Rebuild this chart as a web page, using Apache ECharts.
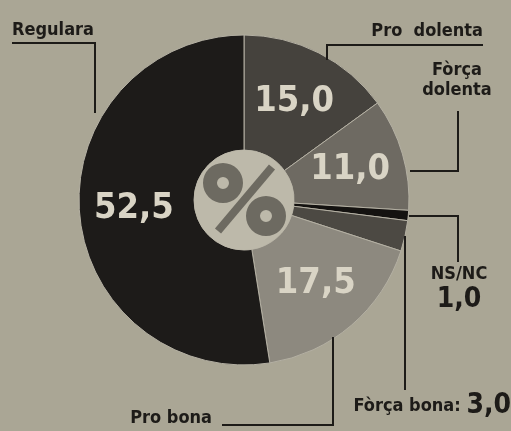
<!DOCTYPE html>
<html>
<head>
<meta charset="utf-8" />
<title>enquesta</title>
<script src="https://cdn.jsdelivr.net/npm/echarts@6/dist/echarts.min.js"></script>
<style>
	html, body { margin: 0; padding: 0; background: #aaa695; }
	#chart { width: 511px; height: 431px; }
</style>
</head>
<body>
<div id="chart"></div>
<script>
	// dades (%), en ordre horari des de les 12
	var categories = ['Pro  dolenta', 'Fòrça dolenta', 'NS/NC', 'Fòrça bona', 'Pro bona', 'Regulara'];
	var values = [15.0, 11.0, 1.0, 3.0, 17.5, 52.5];
	var insideShown = [true, true, false, false, true, true];

	var palette = ['#45423d', '#6e6a62', '#141210', '#4c4943', '#8d897f', '#1d1b19'];
	var ink = '#1d1b18';
	var fontCond = "'Liberation Sans Narrow', 'DejaVu Sans Condensed', 'Noto Sans', sans-serif";

	function num(v) {
		return v.toFixed(1).replace('.', ',');
	}

	// posicio de les etiquetes exteriors i de les linies guia
	var outerLabels = [
		{ x: 483, y: 41, align: 'right', va: 'bottom', line: [[327, 60], [327, 45], [483, 45]] },
		{ x: 457, y: 60, align: 'center', va: 'top', line: [[410, 171], [458, 171], [458, 111]] },
		{ x: 459, y: 263, align: 'center', va: 'top', line: [[409, 216], [458, 216], [458, 262]] },
		{ x: 511, y: 421, align: 'right', va: 'bottom', line: [[405, 236], [405, 312], [405, 390]] },
		{ x: 212, y: 408, align: 'right', va: 'top', line: [[333, 337], [333, 425], [222, 425]] },
		{ x: 12, y: 40, align: 'left', va: 'bottom', line: [[95, 113], [95, 43], [12, 43]] }
	];

	function outerText(i) {
		var name = categories[i];
		if (name === 'Fòrça dolenta') return 'Fòrça\ndolenta';
		if (name === 'NS/NC') return '{a|NS/NC}\n{b|' + num(values[i]) + '}';
		if (name === 'Fòrça bona') return '{a|Fòrça bona: }{b|' + num(values[i]) + '}';
		return name;
	}

	var mainData = [];
	var labelData = [];
	for (var i = 0; i < categories.length; i++) {
		mainData.push({
			name: categories[i],
			value: values[i],
			itemStyle: { color: palette[i] },
			label: { show: insideShown[i] }
		});
		labelData.push({ name: categories[i], value: values[i] });
	}

	var myChart = echarts.init(document.getElementById('chart'));
	var option = {
		backgroundColor: '#aaa695',
		animation: false,
		series: [
			{
				type: 'pie',
				center: [244, 200],
				radius: [50, 165],
				startAngle: 90,
				clockwise: true,
				silent: true,
				itemStyle: { borderColor: '#b4b0a3', borderWidth: 1 },
				label: {
					position: 'inside',
					color: '#d9d4c5',
					fontFamily: fontCond,
					fontWeight: 'bold',
					fontSize: 36,
					formatter: function (p) { return num(p.value); }
				},
				labelLine: { show: false },
				data: mainData
			},
			{
				type: 'pie',
				center: [244, 200],
				radius: [50, 165],
				startAngle: 90,
				clockwise: true,
				silent: true,
				z: 3,
				itemStyle: { color: 'rgba(0,0,0,0)', borderWidth: 0 },
				label: {
					position: 'outside',
					overflow: 'none',
					color: ink,
					fontFamily: fontCond,
					fontWeight: 'bold',
					fontSize: 18,
					lineHeight: 20,
					formatter: function (p) { return outerText(p.dataIndex); },
					rich: {
						a: { fontFamily: fontCond, fontWeight: 'bold', fontSize: 18, color: ink, lineHeight: 22 },
						b: { fontFamily: fontCond, fontWeight: 'bold', fontSize: 28, color: ink, lineHeight: 30 }
					}
				},
				labelLine: { show: true, lineStyle: { color: ink, width: 2 } },
				labelLayout: function (params) {
					var L = outerLabels[params.dataIndex];
					return {
						x: L.x,
						y: L.y,
						width: 200,
						align: L.align,
						verticalAlign: L.va,
						labelLinePoints: L.line
					};
				},
				data: labelData
			}
		],
		graphic: [
			{ type: 'circle', z: 10, shape: { cx: 244, cy: 200, r: 50 }, style: { fill: '#bdb9aa' } },
			{ type: 'ring', z: 11, shape: { cx: 223, cy: 183, r: 20, r0: 6 }, style: { fill: '#6d6a61' } },
			{ type: 'ring', z: 11, shape: { cx: 266, cy: 216, r: 20, r0: 6 }, style: { fill: '#6d6a61' } },
			{ type: 'line', z: 11, shape: { x1: 272, y1: 167, x2: 218, y2: 231 }, style: { stroke: '#6d6a61', lineWidth: 8 } }
		]
	};
	myChart.setOption(option);
</script>
</body>
</html>
